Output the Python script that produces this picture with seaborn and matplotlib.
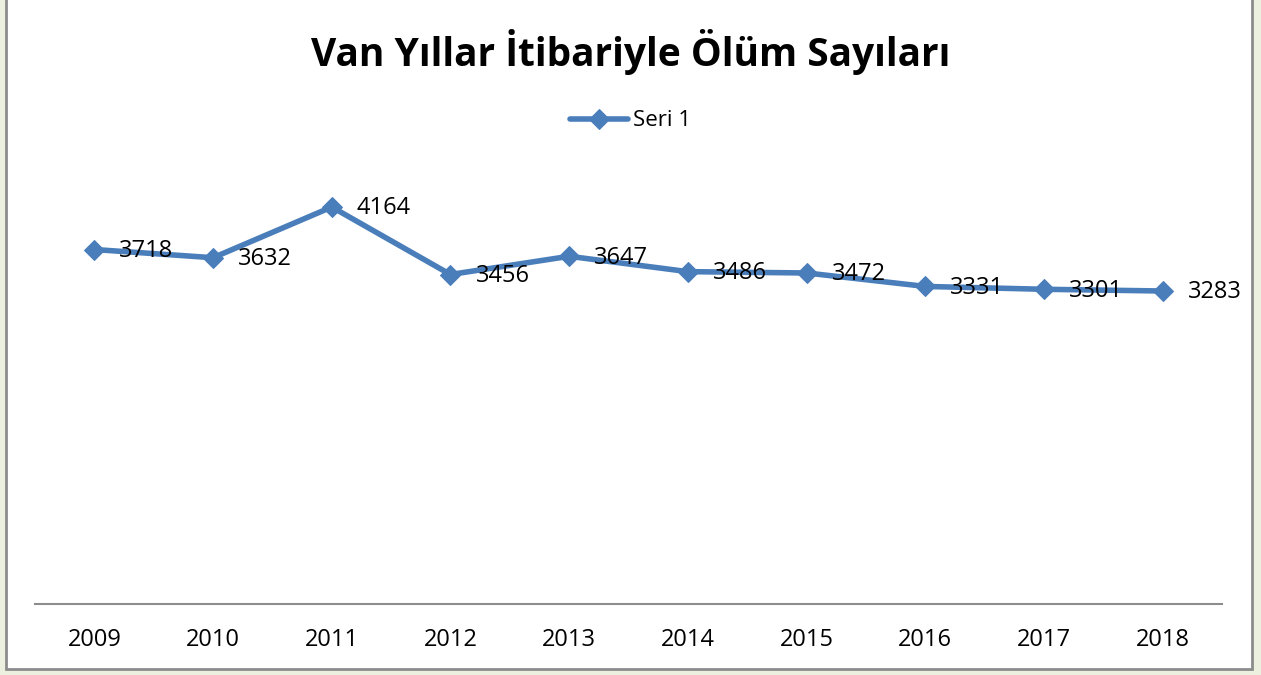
import matplotlib
matplotlib.use("Agg")
import matplotlib.pyplot as plt
import seaborn as sns
import pandas as pd
from matplotlib.patches import Rectangle

# Veriler
years = ["2009", "2010", "2011", "2012", "2013", "2014", "2015", "2016", "2017", "2018"]
deaths = [3718, 3632, 4164, 3456, 3647, 3486, 3472, 3331, 3301, 3283]
series_name = "Seri 1"

df = pd.DataFrame({"Yil": years, "Olum": deaths})

sns.set_style("white")
plt.rcParams["font.family"] = ["Open Sans", "DejaVu Sans"]
plt.rcParams["text.color"] = "black"
plt.rcParams["xtick.color"] = "black"

fig = plt.figure(figsize=(12.61, 6.75), dpi=100, facecolor="#EBF1DE")
# beyaz grafik alani ve gri cerceve
fig.patches.append(Rectangle((6 / 1261, 6 / 675), 1246 / 1261, 680 / 675,
                             transform=fig.transFigure, facecolor="white",
                             edgecolor="#8c8c8c", linewidth=2, zorder=-5))

ax = fig.add_axes([35 / 1261, 1 - 604 / 675, (1222 - 35) / 1261, (604 - 127.3) / 675])
ax.set_facecolor("none")
ax.set_zorder(2)

color = "#4A7EBB"
sns.lineplot(data=df, x="Yil", y="Olum", ax=ax, color=color, linewidth=4,
             marker="D", markersize=10, markeredgecolor=color, label=series_name)

ax.set_xlim(-0.5, len(years) - 0.5)
ax.set_ylim(0, 5000)

for i, v in enumerate(deaths):
    ax.annotate(str(v), (i, v), xytext=(18, -1), textcoords="offset points",
                ha="left", va="center", fontsize=17, color="black")

for s in ["top", "right", "left"]:
    ax.spines[s].set_visible(False)
ax.spines["bottom"].set_color("#8c8c8c")
ax.spines["bottom"].set_linewidth(1.5)
ax.set_yticks([])
ax.tick_params(axis="x", length=0, pad=17, labelsize=17, labelcolor="black")
ax.set_xlabel("")
ax.set_ylabel("")

leg = ax.legend(loc="center", bbox_to_anchor=(0.5, 1 - 121 / 675), bbox_transform=fig.transFigure,
                frameon=False, fontsize=16, handlelength=2.6, handletextpad=0.2)

fig.text(0.5, 1 - 52 / 675, "Van Yıllar İtibariyle Ölüm Sayıları", ha="center", va="center",
         fontsize=28, fontweight="bold", color="black")

fig.savefig("out.png", dpi=100, facecolor=fig.get_facecolor())
